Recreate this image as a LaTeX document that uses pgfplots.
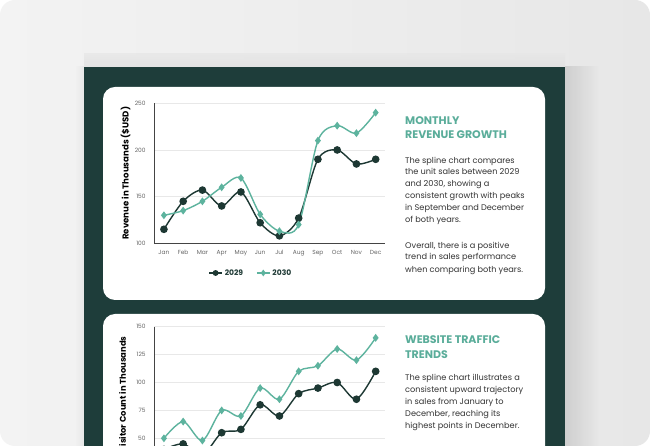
\documentclass[border=0pt]{standalone}
\usepackage{fontspec}
\setmainfont{Poppins}
\usepackage{pgfplots}
\pgfplotsset{compat=1.18}
\definecolor{panel}{HTML}{1E3D3A}
\definecolor{serA}{HTML}{1D3833}
\definecolor{serB}{HTML}{5DB39E}
\definecolor{titlec}{HTML}{5AAD9A}
\definecolor{bodyc}{HTML}{333333}
\definecolor{bgL}{HTML}{F3F3F3}
\definecolor{bgR}{HTML}{E7E7E7}
\definecolor{tickc}{HTML}{666666}
\definecolor{gridc}{HTML}{E8E8E8}
\definecolor{axc}{HTML}{444444}

\pgfplotstableread{
x y29 y30
0 115 130
1 145 135
2 157 145
3 140 160
4 155 170
5 122 131
6 108 113
7 127 120
8 190 210
9 200 226
10 185 218
11 190 240
}\revenue

\pgfplotstableread{
x y29 y30
0 40 50
1 45 65
2 35 48
3 55 75
4 58 70
5 80 95
6 70 85
7 90 110
8 95 115
9 100 130
10 85 120
11 110 140
}\traffic

\pgfplotsset{
  cardaxis/.style={
    scale only axis,
    width=231pt,
    xmin=-0.5, xmax=11.5,
    xtick={0,...,11},
    axis x line*=bottom,
    axis y line*=left,
    axis line style={draw=axc, line width=0.7pt},
    major tick length=0pt,
    ymajorgrids,
    grid style={draw=gridc, line width=0.6pt},
    tick label style={font=\fontsize{5.9}{6.5}\selectfont, text=tickc},
    yticklabel style={inner sep=0pt, xshift=-8.5pt},
    xticklabel style={inner sep=0pt, anchor=base, yshift=-11.5pt},
    /pgf/number format/assume math mode=true,
    clip=false,
  },
}

\begin{document}
\begin{tikzpicture}
\useasboundingbox (0pt,0pt) rectangle (650pt,446pt);
\fill[white] (0pt,0pt) rectangle (650pt,446pt);
\begin{scope}
\clip[rounded corners=15pt] (0pt,0pt) rectangle (650pt,446pt);
\begin{scope}[x=1pt,y=1pt]
\shade[left color=bgL, right color=bgR] (0,0) rectangle (650,446);
\shade[left color=black!20, right color=bgR, opacity=0.9] (565,0) rectangle (598,379);
\shade[top color=bgR, bottom color=black!12, opacity=0.8] (84,379) rectangle (565,392);
\shade[left color=bgL, right color=black!10, opacity=0.8] (74,0) rectangle (84,379);
\fill[panel] (84,0) rectangle (565,379);
\fill[white, rounded corners=12pt] (103,146) rectangle (545,359);
\fill[white, rounded corners=12pt] (103,-30) rectangle (545,132);
\end{scope}

% ---------- chart 1 ----------
\begin{axis}[cardaxis,
  at={(154.3pt,202.7pt)}, anchor=south west,
  height=140pt,
  xticklabels={Jan,Feb,Mar,Apr,May,Jun,Jul,Aug,Sep,Oct,Nov,Dec},
  ymin=100, ymax=250, ytick={100,150,200,250},
  legend style={at={(0.418,-0.212)}, anchor=center, draw=none, fill=none,
    legend columns=2, font=\bfseries\fontsize{7.6}{8}\selectfont, text=serA,
    /tikz/every even column/.append style={column sep=11pt},
    inner sep=0pt},
  legend image code/.code={\draw[mark repeat=2,mark phase=2, mark size=2.2pt] plot coordinates {(0pt,0pt)(6.5pt,0pt)(13pt,0pt)};},
]
\addplot[color=serA, line width=1.4pt, smooth, mark=*, mark size=3.1pt, mark options={solid, fill=serA}] table[x=x,y=y29] {\revenue};
\addlegendentry{2029}
\addplot[color=serB, line width=1.4pt, smooth, mark=diamond*, mark size=2.8pt, mark options={solid, fill=serB}] table[x=x,y=y30] {\revenue};
\addlegendentry{2030}
\end{axis}

% ---------- chart 2 (lower part is cut off by the picture's edge) ----------
\begin{axis}[cardaxis,
  at={(154.3pt,-20.2pt)}, anchor=south west,
  height=139.5pt,
  xticklabels={},
  ymin=25, ymax=150, ytick={50,75,100,125,150},
]
\addplot[color=serA, line width=1.4pt, smooth, mark=*, mark size=3.1pt, mark options={solid, fill=serA}] table[x=x,y=y29] {\traffic};
\addplot[color=serB, line width=1.4pt, smooth, mark=diamond*, mark size=2.8pt, mark options={solid, fill=serB}] table[x=x,y=y30] {\traffic};
\end{axis}

\begin{scope}[x=1pt,y=1pt]
\node[rotate=90, font=\bfseries\fontsize{8.6}{9}\selectfont, text=black] at (125.5,272.7) {Revenue in Thousands (\$USD)};
\node[rotate=90, font=\bfseries\fontsize{8.4}{9}\selectfont, text=black] at (122.5,51.5) {Visitor Count in Thousands};
\begin{scope}[every node/.style={anchor=base west, inner sep=0pt}]
\node[font=\bfseries\fontsize{11}{12}\selectfont, text=titlec] at (405,321) {MONTHLY};
\node[font=\bfseries\fontsize{11}{12}\selectfont, text=titlec] at (405,307) {REVENUE GROWTH};
\begin{scope}[every node/.append style={font=\fontsize{8.2}{10}\selectfont, text=bodyc}]
\node at (405,282.7) {The spline chart compares};
\node at (405,271.0) {the unit sales between 2029};
\node at (405,259.3) {and 2030, showing a};
\node at (405,247.0) {consistent growth with peaks};
\node at (405,235.0) {in September and December};
\node at (405,223.3) {of both years.};
\node at (405,197.7) {Overall, there is a positive};
\node at (405,186.0) {trend in sales performance};
\node at (405,173.7) {when comparing both years.};
\end{scope}
\node[font=\bfseries\fontsize{11}{12}\selectfont, text=titlec] at (405,102) {WEBSITE TRAFFIC};
\node[font=\bfseries\fontsize{11}{12}\selectfont, text=titlec] at (405,87.3) {TRENDS};
\begin{scope}[every node/.append style={font=\fontsize{8.2}{10}\selectfont, text=bodyc}]
\node at (405,65.0) {The spline chart illustrates a};
\node at (405,53.3) {consistent upward trajectory};
\node at (405,41.7) {in sales from January to};
\node at (405,29.3) {December, reaching its};
\node at (405,17.7) {highest points in December.};
\end{scope}
\end{scope}
\end{scope}
\end{scope}
\end{tikzpicture}
\end{document}
